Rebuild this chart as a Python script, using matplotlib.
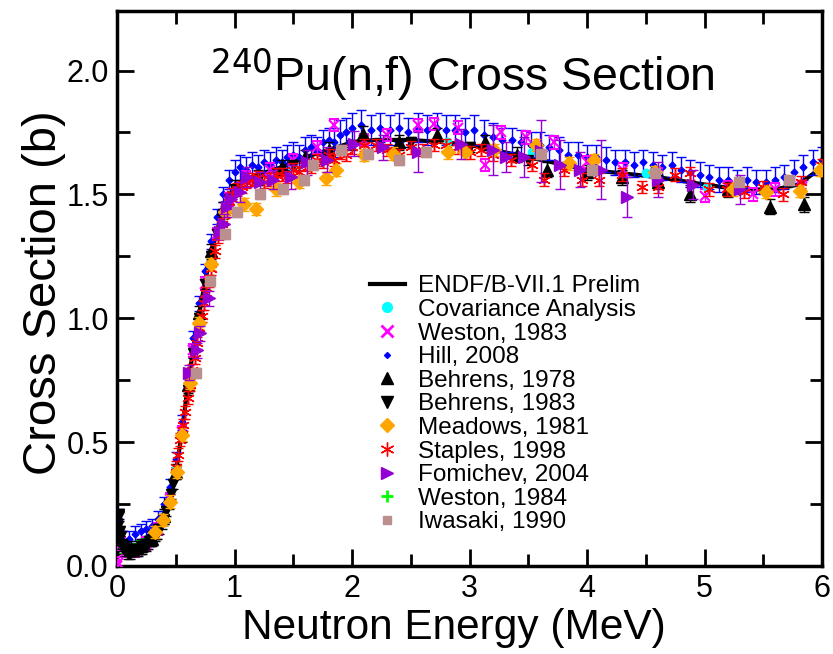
import matplotlib
matplotlib.use("Agg")
import matplotlib.pyplot as plt
from matplotlib.lines import Line2D
from matplotlib.ticker import MultipleLocator

plt.rcParams['font.family'] = ['Liberation Sans', 'DejaVu Sans']

# ENDF/B-VII.1 prelim evaluation
endf_e = [0.0, 0.005, 0.01, 0.015, 0.02, 0.03, 0.04, 0.06, 0.08, 0.10, 0.15, 0.20, 0.25,
          0.30, 0.35, 0.40, 0.45, 0.50, 0.55, 0.60, 0.65, 0.70, 0.75, 0.80, 0.85, 0.90,
          0.95, 1.00, 1.10, 1.20, 1.40, 1.60, 1.80, 2.00, 2.20, 2.50, 2.80, 3.00, 3.30,
          3.60, 4.00, 4.30, 4.60, 5.00, 5.30, 5.60, 5.80, 6.00]
endf_s = [0.00, 0.12, 0.18, 0.10, 0.14, 0.08, 0.09, 0.06, 0.07, 0.06, 0.07, 0.08, 0.10,
          0.12, 0.16, 0.21, 0.28, 0.38, 0.53, 0.72, 0.88, 1.02, 1.15, 1.26, 1.35, 1.43,
          1.49, 1.53, 1.56, 1.58, 1.61, 1.65, 1.68, 1.71, 1.72, 1.72, 1.71, 1.70, 1.67,
          1.64, 1.60, 1.585, 1.57, 1.54, 1.52, 1.52, 1.54, 1.61]

cov_e = [0.50, 1.00, 1.50, 2.00, 2.81, 3.53, 4.50, 5.02, 6.00]
cov_s = [0.39, 1.53, 1.61, 1.70, 1.71, 1.67, 1.585, 1.53, 1.61]

w83_e = [0.0, 0.005, 0.03, 0.08, 0.15, 0.25, 0.35, 0.45, 0.55, 0.65, 0.75, 0.85, 0.95,
         1.10, 1.30, 1.50, 1.70, 1.85, 2.10, 2.30, 2.56, 2.70, 2.90, 3.13, 3.27, 3.48,
         3.72, 4.00, 4.31, 4.60, 5.00, 5.20, 5.41, 5.60, 5.83]
w83_s = [0.0, 0.01, 0.09, 0.06, 0.06, 0.09, 0.15, 0.27, 0.54, 0.87, 1.14, 1.34, 1.48,
         1.57, 1.60, 1.64, 1.69, 1.78, 1.72, 1.74, 1.78, 1.785, 1.77, 1.62, 1.75, 1.73,
         1.71, 1.63, 1.60, 1.58, 1.495, 1.53, 1.50, 1.52, 1.53]

hill_e = [0.02, 0.05, 0.10, 0.15, 0.20, 0.25, 0.30, 0.35, 0.40, 0.45, 0.50, 0.55, 0.60,
          0.65, 0.70, 0.75, 0.80, 0.85, 0.90, 0.95, 1.00, 1.05, 1.10, 1.15, 1.20, 1.25,
          1.30, 1.35, 1.40, 1.45, 1.50, 1.55, 1.60, 1.65, 1.70, 1.75, 1.80, 1.85, 1.90,
          1.95, 2.00, 2.08, 2.16, 2.24, 2.32, 2.40, 2.48, 2.56, 2.64, 2.72, 2.80, 2.88,
          2.96, 3.04, 3.12, 3.20, 3.28, 3.36, 3.44, 3.52, 3.60, 3.68, 3.76, 3.84, 3.92,
          4.00, 4.08, 4.16, 4.24, 4.32, 4.40, 4.48, 4.56, 4.64, 4.72, 4.80, 4.88, 4.96,
          5.04, 5.12, 5.20, 5.28, 5.36, 5.44, 5.52, 5.60, 5.68, 5.76, 5.84, 5.92, 6.00]
hill_s = [0.19, 0.10, 0.11, 0.13, 0.14, 0.15, 0.16, 0.19, 0.25, 0.32, 0.43, 0.58, 0.77,
          0.92, 1.06, 1.19, 1.31, 1.41, 1.50, 1.56, 1.59, 1.61, 1.60, 1.62, 1.61, 1.63,
          1.62, 1.64, 1.63, 1.65, 1.66, 1.65, 1.68, 1.69, 1.68, 1.71, 1.72, 1.71, 1.74,
          1.75, 1.77, 1.78, 1.76, 1.77, 1.76, 1.77, 1.75, 1.77, 1.76, 1.77, 1.76, 1.76,
          1.75, 1.76, 1.74, 1.73, 1.72, 1.72, 1.71, 1.70, 1.70, 1.69, 1.68, 1.66, 1.66,
          1.65, 1.65, 1.64, 1.63, 1.63, 1.62, 1.63, 1.62, 1.61, 1.62, 1.60, 1.59, 1.58,
          1.57, 1.56, 1.56, 1.55, 1.56, 1.55, 1.55, 1.56, 1.57, 1.59, 1.61, 1.63, 1.64]
hill_err = [0.04, 0.04, 0.03, 0.03, 0.03, 0.03, 0.03, 0.03, 0.03, 0.03, 0.03, 0.03, 0.03,
            0.03, 0.03, 0.03, 0.03, 0.03, 0.03, 0.04, 0.05, 0.05, 0.05, 0.05, 0.05, 0.05,
            0.05, 0.05, 0.05, 0.05, 0.05, 0.05, 0.05, 0.05, 0.05, 0.05, 0.05, 0.06, 0.06,
            0.06, 0.06, 0.06, 0.06, 0.06, 0.06, 0.06, 0.06, 0.06, 0.06, 0.06, 0.06, 0.06,
            0.06, 0.06, 0.06, 0.06, 0.05, 0.05, 0.05, 0.05, 0.05, 0.05, 0.05, 0.05, 0.05,
            0.05, 0.05, 0.05, 0.05, 0.05, 0.05, 0.05, 0.05, 0.05, 0.05, 0.05, 0.05, 0.05,
            0.05, 0.05, 0.05, 0.05, 0.05, 0.05, 0.05, 0.05, 0.05, 0.05, 0.05, 0.05, 0.05]

b78_e = [0.12, 0.20, 0.30, 0.40, 0.50, 0.60, 0.70, 0.80, 0.90, 1.00, 1.20, 1.40, 1.60,
         1.80, 2.09, 2.40, 2.72, 3.13, 3.40, 3.66, 4.00, 4.30, 4.60, 4.88, 5.20, 5.56, 5.85]
b78_s = [0.07, 0.08, 0.11, 0.20, 0.38, 0.73, 1.02, 1.27, 1.44, 1.53, 1.57, 1.61, 1.65,
         1.68, 1.745, 1.71, 1.74, 1.71, 1.66, 1.60, 1.59, 1.57, 1.55, 1.50, 1.52, 1.45, 1.46]

b83_e = [0.005, 0.01, 0.015, 0.02, 0.025, 0.03, 0.04, 0.05, 0.06, 0.07, 0.08, 0.09, 0.10,
         0.11, 0.12, 0.13, 0.14, 0.15, 0.16, 0.17, 0.18, 0.19, 0.20, 0.21, 0.22, 0.23,
         0.24, 0.25, 0.26, 0.27, 0.28, 0.29, 0.30, 0.31, 0.32, 0.33, 0.34, 0.35, 0.36,
         0.38, 0.40, 0.42, 0.44, 0.46, 0.48, 0.50, 0.55, 0.60, 0.65, 0.70, 0.75, 0.80,
         0.85, 0.90, 0.95, 1.00, 1.20, 1.50, 2.00, 2.50, 3.00, 3.50]
b83_s = [0.10, 0.16, 0.21, 0.20, 0.14, 0.12, 0.09, 0.07, 0.08, 0.06, 0.07, 0.05, 0.06,
         0.05, 0.06, 0.06, 0.07, 0.06, 0.07, 0.06, 0.06, 0.07, 0.08, 0.07, 0.08, 0.08,
         0.09, 0.08, 0.09, 0.10, 0.10, 0.10, 0.11, 0.12, 0.12, 0.13, 0.13, 0.15, 0.15,
         0.17, 0.19, 0.22, 0.25, 0.29, 0.33, 0.37, 0.52, 0.71, 0.86, 1.00, 1.14, 1.25,
         1.34, 1.42, 1.48, 1.52, 1.56, 1.62, 1.70, 1.71, 1.69, 1.64]

mea_e = [0.32, 0.39, 0.45, 0.51, 0.55, 0.62, 0.70, 0.80, 0.92, 1.08, 1.18, 1.35, 1.55,
         1.78, 1.86, 2.10, 2.35, 2.82, 2.96, 3.21, 3.57, 3.85, 4.06, 4.58, 5.24, 5.52,
         5.81, 5.98]
mea_s = [0.137, 0.185, 0.26, 0.38, 0.53, 0.74, 0.98, 1.22, 1.43, 1.46, 1.44, 1.52, 1.55,
         1.565, 1.60, 1.66, 1.665, 1.67, 1.67, 1.68, 1.70, 1.625, 1.64, 1.59, 1.52, 1.51,
         1.515, 1.60]

sta_e = [0.50, 0.52, 0.54, 0.56, 0.58, 0.60, 0.62, 0.64, 0.66, 0.68, 0.70, 0.72, 0.74,
         0.76, 0.78, 0.80, 0.83, 0.86, 0.89, 0.92, 0.95, 0.98, 1.02, 1.06, 1.10, 1.15,
         1.20, 1.25, 1.30, 1.35, 1.40, 1.45, 1.50, 1.55, 1.60, 1.65, 1.70, 1.75, 1.80,
         1.85, 1.90, 1.95, 2.00, 2.10, 2.20, 2.30, 2.40, 2.50, 2.60, 2.70, 2.80, 2.90,
         3.00, 3.10, 3.20, 3.35, 3.53, 3.63, 3.80, 3.96, 4.10, 4.30, 4.47, 4.60, 4.75,
         4.88, 5.04, 5.19, 5.34, 5.50, 5.67, 5.82, 6.00]
sta_s = [0.40, 0.45, 0.51, 0.57, 0.62, 0.68, 0.73, 0.79, 0.84, 0.90, 0.96, 1.01, 1.06,
         1.10, 1.15, 1.20, 1.27, 1.33, 1.38, 1.43, 1.47, 1.50, 1.52, 1.53, 1.55, 1.56,
         1.57, 1.55, 1.56, 1.58, 1.58, 1.57, 1.60, 1.59, 1.62, 1.61, 1.64, 1.63, 1.66,
         1.64, 1.67, 1.66, 1.69, 1.70, 1.70, 1.68, 1.66, 1.69, 1.68, 1.70, 1.70, 1.69,
         1.67, 1.68, 1.66, 1.64, 1.62, 1.56, 1.60, 1.56, 1.56, 1.58, 1.53, 1.53, 1.58,
         1.585, 1.52, 1.52, 1.51, 1.53, 1.50, 1.55, 1.62]

fom_e = [0.61, 0.68, 0.71, 0.78, 0.88, 0.91, 0.94, 0.97, 1.05, 1.11, 1.22, 1.33, 1.48,
         1.62, 1.79, 2.02, 2.26, 2.56, 2.93, 3.20, 3.31, 3.46, 3.61, 3.77, 3.94, 4.12,
         4.34, 4.60, 4.90, 5.30]
fom_s = [0.78, 0.87, 0.94, 1.08, 1.35, 1.38, 1.45, 1.48, 1.51, 1.57, 1.55, 1.56, 1.57,
         1.63, 1.64, 1.705, 1.69, 1.67, 1.705, 1.68, 1.65, 1.65, 1.675, 1.62, 1.60, 1.60,
         1.49, 1.56, 1.54, 1.52]
fom_err = [0.03, 0.03, 0.03, 0.03, 0.03, 0.04, 0.04, 0.04, 0.04, 0.04, 0.04, 0.04, 0.05,
           0.05, 0.05, 0.05, 0.05, 0.08, 0.06, 0.10, 0.06, 0.08, 0.125, 0.10, 0.07, 0.12,
           0.08, 0.07, 0.06, 0.06]

w84_e = [0.02, 0.05, 0.10, 0.15, 0.20, 0.25]
w84_s = [0.10, 0.07, 0.06, 0.07, 0.08, 0.09]

iwa_e = [0.67, 0.79, 0.92, 1.02, 1.22, 1.41, 1.59, 1.67, 1.91, 2.14, 2.40, 2.63, 3.61,
         4.04, 4.58, 5.29, 5.72]
iwa_s = [0.78, 1.15, 1.34, 1.43, 1.50, 1.52, 1.56, 1.62, 1.68, 1.665, 1.64, 1.67, 1.665,
         1.60, 1.585, 1.55, 1.56]

fig = plt.figure(figsize=(8.33, 6.54), dpi=100)
ax = fig.add_axes([0.1405, 0.1346, 0.8463, 0.8484])

ax.plot(endf_e, endf_s, color='black', lw=3, zorder=1)

eb = dict(linestyle='none', capsize=3.5, elinewidth=1, capthick=1)
ax.errorbar(hill_e, hill_s, yerr=hill_err, fmt='D', ms=3.5, color='#0000ff', zorder=2, **eb)
ax.errorbar(w83_e, w83_s, yerr=0.025, fmt='x', ms=7, mew=1.5, color='#ff00ff', zorder=3, **eb)
ax.errorbar(b78_e, b78_s, yerr=0.03, fmt='^', ms=8, color='black', zorder=3, **eb)
ax.errorbar(b83_e, b83_s, yerr=0.02, fmt='v', ms=7, color='black', zorder=3, **eb)
ax.errorbar(mea_e, mea_s, yerr=0.025, fmt='D', ms=7, color='#ffa500', zorder=4, **eb)
ax.errorbar(sta_e, sta_s, yerr=0.025, fmt='none', color='#ff0000', zorder=4, **eb)
ax.plot(sta_e, sta_s, ls='none', marker=(6, 2, 0), ms=9, mew=1, color='#ff0000', zorder=4)
ax.errorbar(fom_e, fom_s, yerr=fom_err, fmt='>', ms=8, color='#9400d3', zorder=5, **eb)
ax.errorbar(w84_e, w84_s, yerr=0.02, fmt='+', ms=8, mew=1.5, color='#00ff00', zorder=2, **eb)
ax.errorbar(iwa_e, iwa_s, yerr=0.02, fmt='s', ms=7, color='#bc8f8f', zorder=5, **eb)
ax.plot(cov_e, cov_s, ls='none', marker='o', ms=6, color='#00ffff', zorder=3)

ax.set_xlim(0, 6)
ax.set_ylim(0, 2.24)
ax.xaxis.set_major_locator(MultipleLocator(1))
ax.xaxis.set_minor_locator(MultipleLocator(0.5))
ax.yaxis.set_major_locator(MultipleLocator(0.5))
ax.yaxis.set_minor_locator(MultipleLocator(0.25))
ax.yaxis.set_major_formatter(matplotlib.ticker.FormatStrFormatter('%.1f'))
ax.tick_params(which='both', direction='in', top=True, right=True, width=2, labelsize=22)
ax.tick_params(which='major', length=12, pad=6)
ax.tick_params(which='minor', length=9)
for s in ax.spines.values():
    s.set_linewidth(2.5)

ax.set_xlabel('Neutron Energy (MeV)', fontsize=30.5, labelpad=3, x=0.478)
ax.set_ylabel('Cross Section (b)', fontsize=34, labelpad=0, y=0.492)
ax.text(0.49, 0.885, r'$^{240}$Pu(n,f) Cross Section', transform=ax.transAxes,
        ha='center', va='center', fontsize=33.5)

handles = [
    Line2D([], [], color='black', lw=3),
    Line2D([], [], ls='none', marker='o', ms=7, color='#00ffff'),
    Line2D([], [], ls='none', marker='x', ms=8, mew=2, color='#ff00ff'),
    Line2D([], [], ls='none', marker='D', ms=3, color='#0000ff'),
    Line2D([], [], ls='none', marker='^', ms=8, color='black'),
    Line2D([], [], ls='none', marker='v', ms=8, color='black'),
    Line2D([], [], ls='none', marker='D', ms=7, color='#ffa500'),
    Line2D([], [], ls='none', marker=(6, 2, 0), ms=10, mew=1, color='#ff0000'),
    Line2D([], [], ls='none', marker='>', ms=9, color='#9400d3'),
    Line2D([], [], ls='none', marker='+', ms=9, mew=2, color='#00ff00'),
    Line2D([], [], ls='none', marker='s', ms=6, color='#bc8f8f'),
]
labels = ['ENDF/B-VII.1 Prelim', 'Covariance Analysis', 'Weston, 1983', 'Hill, 2008',
          'Behrens, 1978', 'Behrens, 1983', 'Meadows, 1981', 'Staples, 1998',
          'Fomichev, 2004', 'Weston, 1984', 'Iwasaki, 1990']
fig.legend(handles, labels, loc='upper left', bbox_to_anchor=(0.444, 0.579),
           frameon=False, fontsize=17.5, labelspacing=0.065, handlelength=1.45,
           handletextpad=0.54, borderaxespad=0, borderpad=0)

fig.savefig('out.png', dpi=100)
